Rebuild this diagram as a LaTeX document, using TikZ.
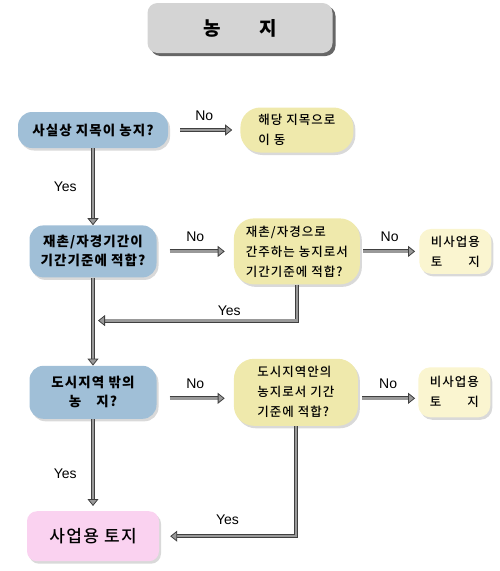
\documentclass[tikz,border=0pt]{standalone}
\usepackage{fontspec}
\setmainfont{Liberation Sans}
\newfontfamily\kr[LetterSpace=8]{Noto Sans CJK KR}
\newfontfamily\krmed[LetterSpace=8]{Noto Sans CJK KR Medium}
\usepackage{calc}
\usetikzlibrary{arrows.meta,positioning,shadows}

\definecolor{askblue}{RGB}{160,191,215}
\definecolor{chkyellow}{RGB}{239,233,172}
\definecolor{outcream}{RGB}{250,245,208}
\definecolor{usepink}{RGB}{250,210,240}
\definecolor{headgray}{RGB}{212,212,212}

\begin{document}
\begin{tikzpicture}[
    x=1pt, y=-1pt,
    node distance=0pt,
    softshadow/.style={drop shadow={opacity=0.3, shadow xshift=2pt, shadow yshift=-2.5pt}},
    headbox/.style={fill=headgray, rounded corners=10pt, minimum width=185pt, minimum height=50pt, font=\kr\bfseries\fontsize{19}{19}\selectfont, drop shadow={fill=black!75, opacity=0.8, shadow xshift=3pt, shadow yshift=-3pt}},
    askbox/.style={fill=askblue, rounded corners=14pt, align=center, inner sep=0pt, softshadow, font=\kr\bfseries\fontsize{13.5}{19}\selectfont},
    chkbox/.style={fill=chkyellow, rounded corners=20pt, align=left, inner sep=0pt, softshadow, font=\krmed\fontsize{12.5}{20}\selectfont},
    outbox/.style={fill=outcream, rounded corners=12pt, align=left, inner sep=0pt, softshadow, minimum width=72pt, font=\krmed\fontsize{12.5}{20}\selectfont},
    usebox/.style={fill=usepink, rounded corners=10pt, inner sep=0pt, softshadow, font=\krmed\fontsize{17}{17}\selectfont},
    flow/.style={draw=black!75, line width=0.8pt, double=black!40, double distance=2.5pt, -{Triangle[length=7pt, width=11pt, fill=black!40]}},
    tag/.style={font=\fontsize{14}{14}\selectfont, inner sep=1pt}
]
\useasboundingbox (0,0) rectangle (500,571);

\node[headbox] (head) at (240,28) {농\hspace{2em}지};

% left column
\node[askbox, minimum width=150pt, minimum height=36pt] (q1) at (93,130) {사실상 지목이 농지?};
\node[askbox, minimum width=127pt, minimum height=52pt, below=77pt of q1] (q2) {재촌/자경기간이\\기간기준에 적합?};
\node[askbox, minimum width=127pt, minimum height=53pt, below=88pt of q2] (q3) {도시지역 밖의\\농\hspace{1.1em}지?};
\node[usebox, minimum width=132pt, minimum height=50pt, below=92pt of q3] (biz) {사업용 토지};

% right columns
\node[chkbox, minimum width=113pt, minimum height=45pt, right=72pt of q1] (c1) {해당 지목으로\\이 동};
\node[chkbox, minimum width=126pt, minimum height=66pt, right=77pt of q2] (c2) {재촌/자경으로\\간주하는 농지로서\\기간기준에 적합?};
\node[outbox, minimum height=45pt, right=59pt of c2] (o1) {비사업용\\\makebox[\widthof{비사업용}][s]{토\hfill 지}};
\node[chkbox, minimum width=124pt, minimum height=67pt, right=77pt of q3] (c3) {도시지역안의\\농지로서 기간\\기준에 적합?};
\node[outbox, minimum height=50pt, right=60pt of c3] (o2) {비사업용\\\makebox[\widthof{비사업용}][s]{토\hfill 지}};

\coordinate[below right=43pt and 5pt of q2.south] (merge);

% connectors
\draw[flow, shorten <=12pt, shorten >=8pt] (q1) -- node[tag, above=8pt] {No} (c1);
\draw[flow] (q1) -- node[tag, left=15pt] {Yes} (q2);
\draw[flow, shorten <=13pt, shorten >=9pt] (q2) -- node[tag, above=8pt] {No} (c2);
\draw[flow, shorten <=3pt, shorten >=4pt] (c2) -- node[tag, above=8pt] {No} (o1);
\draw[flow] (c2.south) |- node[tag, pos=0.67, above=4pt] {Yes} (merge);
\draw[flow] (q2) -- (q3);
\draw[flow, shorten <=13pt, shorten >=9pt] ([yshift=-6pt]q3.east) -- node[tag, above=8pt] {No} ([yshift=-6pt]c3.west);
\draw[flow, shorten <=4pt, shorten >=3pt] ([yshift=-6pt]c3.east) -- node[tag, above=8pt] {No} ([yshift=-6pt]o2.west);
\draw[flow, shorten >=5pt] (q3) -- node[tag, pos=0.6, left=15pt] {Yes} (biz);
\draw[flow, shorten >=11pt] (c3.south) |- node[tag, pos=0.75, above=10pt] {Yes} (biz.east);
\end{tikzpicture}
\end{document}
